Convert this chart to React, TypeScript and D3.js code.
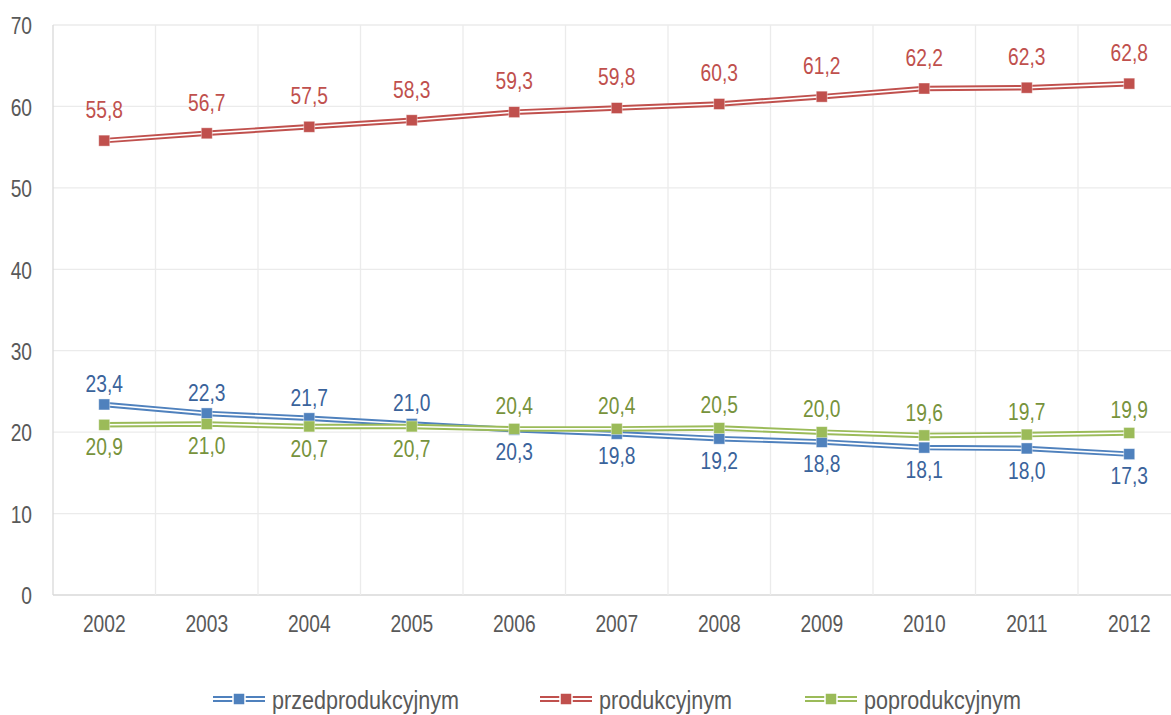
import React from "react";
import * as d3 from "d3";

const years = ["2002","2003","2004","2005","2006","2007","2008","2009","2010","2011","2012"];
const przed = [23.4,22.3,21.7,21.0,20.3,19.8,19.2,18.8,18.1,18.0,17.3];
const prod = [55.8,56.7,57.5,58.3,59.3,59.8,60.3,61.2,62.2,62.3,62.8];
const poprod = [20.9,21.0,20.7,20.7,20.4,20.4,20.5,20.0,19.6,19.7,19.9];
const yTicks = [0,10,20,30,40,50,60,70];
// label placement: true = above
const przedAbove = [true,true,true,true,false,false,false,false,false,false,false];
const prodAbove = years.map(() => true);
const poprodAbove = [false,false,false,false,true,true,true,true,true,true,true];

const series = [
  { name: "przedprodukcyjnym", values: przed, color: "#4f81bd", label: "#3a639b", above: przedAbove, upOff: -21 },
  { name: "produkcyjnym", values: prod, color: "#c0504d", label: "#c0504d", above: prodAbove, upOff: -31 },
  { name: "poprodukcyjnym", values: poprod, color: "#9bbb59", label: "#77933c", above: poprodAbove, upOff: -23 },
];

const FONT = "'Liberation Sans', Arial, sans-serif";
const SX = 0.8;

function NText(props: { x: number; y: number; anchor?: string; size: number; sx: number; fill: string; children: React.ReactNode; baseline?: string }) {
  return (
    <text
      transform={`translate(${props.x},${props.y}) scale(${props.sx},1)`}
      textAnchor={props.anchor || "middle"}
      dominantBaseline={props.baseline || "central"}
      fontFamily={FONT}
      fontSize={props.size}
      fill={props.fill}
    >
      {props.children}
    </text>
  );
}

export default function App() {
  const W = 1171, H = 715;
  const left = 53, top = 25, bottom = 595;
  const step = 102.5;
  const x = d3.scaleBand<string>().domain(years).range([left, left + step * years.length]);
  const y = d3.scaleLinear().domain([0, 70]).range([bottom, top]);
  const cx = (i: number) => (x(years[i]) as number) + x.bandwidth() / 2;
  const line = d3.line<number>().x((_, i) => cx(i)).y(d => y(d));
  const fmt = (v: number) => v.toFixed(1).replace(".", ",");
  const legendX = [213, 540, 805];

  return (
    <svg width={W} height={H} style={{ position: "absolute", left: 0, top: 0, background: "#fff" }}>
      <rect width={W} height={H} fill="#fff" />
      {yTicks.map(t => (
        <line key={"h" + t} x1={left} x2={W} y1={y(t)} y2={y(t)} stroke={t === 0 ? "#d9d9d9" : "#ebebeb"} strokeWidth={1.3} />
      ))}
      {years.map((yr, i) => (
        <line key={"v" + yr} x1={(x(yr) as number)} x2={(x(yr) as number)} y1={top} y2={bottom} stroke={i === 0 ? "#d9d9d9" : "#ebebeb"} strokeWidth={1.3} />
      ))}
      {yTicks.map(t => (
        <NText key={"yt" + t} x={32} y={y(t) + 1} anchor="end" size={24} sx={SX} fill="#595959">{t}</NText>
      ))}
      {years.map((yr, i) => (
        <NText key={"xt" + yr} x={cx(i)} y={624} size={24} sx={SX} fill="#595959">{yr}</NText>
      ))}
      {series.map(s => (
        <g key={s.name}>
          <path d={line(s.values) || ""} fill="none" stroke={s.color} strokeWidth={5.5} strokeLinejoin="round" />
          <path d={line(s.values) || ""} fill="none" stroke="#fff" strokeWidth={1.6} strokeLinejoin="round" />
          {s.values.map((v, i) => (
            <rect key={i} x={cx(i) - 5.5} y={y(v) - 5.5} width={11} height={11} fill={s.color} stroke="#fff" strokeOpacity={0.5} strokeWidth={0.8} />
          ))}
        </g>
      ))}
      {series.map(s => (
        <g key={s.name + "l"}>
          {s.values.map((v, i) => (
            <NText key={i} x={cx(i)} y={y(v) + (s.above[i] ? s.upOff : 22)} size={24} sx={SX} fill={s.label}>{fmt(v)}</NText>
          ))}
        </g>
      ))}
      {series.map((s, k) => {
        const lx = legendX[k];
        const ly = 699;
        return (
          <g key={s.name + "lg"}>
            <line x1={lx} x2={lx + 52} y1={ly} y2={ly} stroke={s.color} strokeWidth={6} />
            <line x1={lx} x2={lx + 52} y1={ly} y2={ly} stroke="#fff" strokeWidth={1.8} />
            <rect x={lx + 20} y={ly - 6} width={12} height={12} fill={s.color} stroke="#fff" strokeWidth={1.5} />
            <NText x={lx + 59} y={708.5} anchor="start" baseline="alphabetic" size={26} sx={0.83} fill="#595959">{s.name}</NText>
          </g>
        );
      })}
    </svg>
  );
}
